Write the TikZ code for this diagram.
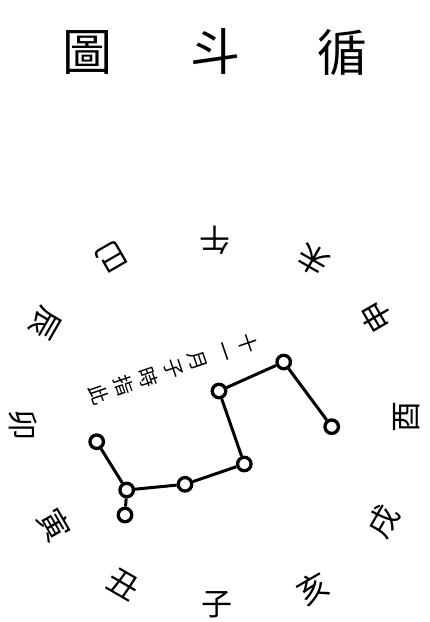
\documentclass[tikz,border=0pt]{standalone}
\usepackage{fontspec}
\newfontfamily\cjk{Noto Sans CJK TC}
\begin{document}
\begin{tikzpicture}[x=1pt,y=-1pt,
  titlechar/.style={font=\cjk\fontsize{50}{50}\selectfont, inner sep=0pt},
  ringchar/.style={font=\cjk\fontsize{31}{31}\selectfont, inner sep=0pt},
  colchar/.style={font=\cjk\fontsize{20}{20}\selectfont, inner sep=0pt, rotate=-71.2},
  star/.style={circle, draw=black, line width=3.3pt, fill=white, minimum size=13.5pt, inner sep=0pt},
  link/.style={line width=3pt, black}]
\fill[white] (0,0) rectangle (429,622);
\useasboundingbox (0,0) rectangle (429,622);
% title
\node[titlechar] (t1) at (87,52) {圖};
\node[titlechar] (t2) at (215,52) {斗};
\node[titlechar] (t3) at (342,52) {循};
% ring of branches
\node[ringchar, rotate=180] (wu) at (215,240) {午};
\node[ringchar, rotate=150] (wei) at (313,260) {未};
\node[ringchar, rotate=120] (shen) at (377,317) {申};
\node[ringchar, rotate=90] (you) at (407,417) {酉};
\node[ringchar, rotate=60] (xu) at (383,521) {戌};
\node[ringchar, rotate=30] (hai) at (313,588) {亥};
\node[ringchar, rotate=0] (zi) at (217,605) {子};
\node[ringchar, rotate=-30] (chou) at (124,584) {丑};
\node[ringchar, rotate=-60] (yin) at (54,525) {寅};
\node[ringchar, rotate=-90] (mao) at (23,425) {卯};
\node[ringchar, rotate=-120] (chen) at (45,323) {辰};
\node[ringchar, rotate=-150] (si) at (112,257) {巳};
% column text
\node[colchar] (c1) at (248,343.5) {十};
\node[colchar] (c2) at (222.3,352.4) {一};
\node[colchar] (c3) at (197.7,360.8) {月};
\node[colchar] (c4) at (173.0,369.2) {子};
\node[colchar] (c5) at (148.4,377.6) {時};
\node[colchar] (c6) at (123.7,386.0) {指};
\node[colchar] (c7) at (99.1,394.4) {此};
% dipper
\node[star] (sA) at (331.7,426.7) {};
\node[star] (sB) at (283.7,362) {};
\node[star] (sC) at (219,391) {};
\node[star] (sD) at (244.3,464) {};
\node[star] (sE) at (185,484.3) {};
\node[star] (sF) at (126.7,490) {};
\node[star] (sG) at (96.7,441.7) {};
\node[star] (sH) at (125,515) {};
\draw[link] (sA) -- (sB);
\draw[link] (sB) -- (sC);
\draw[link] (sC) -- (sD);
\draw[link] (sD) -- (sE);
\draw[link] (sE) -- (sF);
\draw[link] (sF) -- (sG);
\draw[link] (sF) -- (sH);
\end{tikzpicture}
\end{document}
